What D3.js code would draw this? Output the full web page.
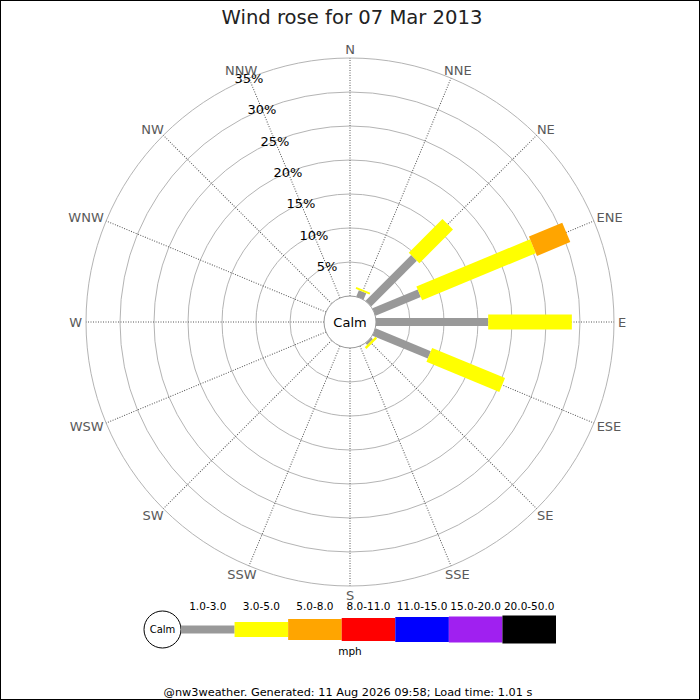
<!DOCTYPE html>
<html>
<head>
<meta charset="utf-8">
<style>
  body { margin: 0; background: #fff; }
  svg text { font-family: "DejaVu Sans", sans-serif; }
</style>
</head>
<body>
<svg id="chart" width="700" height="700"></svg>
<script src="https://d3js.org/d3.v7.min.js"></script>
<script>
// data
var directions = ["N", "NNE", "NE", "ENE", "E", "ESE", "SE", "SSE",
                  "S", "SSW", "SW", "WSW", "W", "WNW", "NW", "NNW"];
var ranges = ["1.0-3.0", "3.0-5.0", "5.0-8.0", "8.0-11.0", "11.0-15.0", "15.0-20.0", "20.0-50.0"];
var rangeColors = ["#999999", "#ffff00", "#ffa500", "#ff0000", "#0000ff", "#a020f0", "#000000"];
var pctTicks = [5, 10, 15, 20, 25, 30, 35];

// percent of time per direction, one array per speed range
var speed1 = [0, 1.0, 9.5, 7.2, 16.5, 8.8, 0.35, 0, 0, 0, 0, 0, 0, 0, 0, 0];
var speed2 = [0, 0.3, 7.0, 18.1, 12.3, 11.6, 0.35, 0, 0, 0, 0, 0, 0, 0, 0, 0];
var speed3 = [0, 0, 0, 5.3, 0, 0, 0, 0, 0, 0, 0, 0, 0, 0, 0, 0];
var speed4 = [0, 0, 0, 0, 0, 0, 0, 0, 0, 0, 0, 0, 0, 0, 0, 0];
var speed5 = [0, 0, 0, 0, 0, 0, 0, 0, 0, 0, 0, 0, 0, 0, 0, 0];
var speed6 = [0, 0, 0, 0, 0, 0, 0, 0, 0, 0, 0, 0, 0, 0, 0, 0];
var speed7 = [0, 0, 0, 0, 0, 0, 0, 0, 0, 0, 0, 0, 0, 0, 0, 0];
var series = [speed1, speed2, speed3, speed4, speed5, speed6, speed7];

var titleText = "Wind rose for 07 Mar 2013";
var footerText = "@nw3weather. Generated: 11 Aug 2026 09:58; Load time: 1.01 s";

// bar thickness for each range (rose and legend)
var barWidth = [8, 15, 21, 23, 25, 26, 28];

var svg = d3.select("#chart");
var cx = 350, cy = 322, calmR = 26;

var r = d3.scaleLinear().domain([0, 35]).range([calmR, 264]);
var ang = d3.scaleBand().domain(directions).range([0, 360]).align(0).paddingInner(0);
function deg(d) { return ang(d); }

// frame
svg.append("rect")
    .attr("x", 0.5).attr("y", 0.5).attr("width", 699).attr("height", 699)
    .attr("fill", "none").attr("stroke", "#000");

// title
svg.append("text")
    .attr("x", 352).attr("y", 24)
    .attr("text-anchor", "middle")
    .style("font-size", "19.6px")
    .attr("fill", "#222")
    .text(titleText);

var rose = svg.append("g").attr("transform", "translate(" + cx + "," + cy + ")");

// rings
rose.selectAll(".ring")
    .data(pctTicks)
    .enter().append("circle")
    .attr("class", "ring")
    .attr("r", function (d) { return r(d); })
    .attr("fill", "none")
    .attr("stroke", "#b4b4b4")
    .attr("stroke-width", 1);

// radial lines
rose.selectAll(".spoke")
    .data(directions)
    .enter().append("line")
    .attr("class", "spoke")
    .attr("x1", 0).attr("y1", -calmR)
    .attr("x2", 0).attr("y2", -r(35))
    .attr("transform", function (d) { return "rotate(" + deg(d) + ")"; })
    .attr("stroke", "#555")
    .attr("stroke-width", 1)
    .attr("stroke-dasharray", "1,1.5");

// stacked bars
var segs = [];
directions.forEach(function (dir, i) {
    var acc = 0;
    series.forEach(function (s, k) {
        if (s[i] > 0) {
            segs.push({ dir: dir, k: k, v0: acc, v1: acc + s[i] });
        }
        acc += s[i];
    });
});

rose.selectAll(".seg")
    .data(segs)
    .enter().append("rect")
    .attr("class", "seg")
    .attr("x", function (d) { return -barWidth[d.k] / 2; })
    .attr("width", function (d) { return barWidth[d.k]; })
    .attr("y", function (d) { return -r(d.v1); })
    .attr("height", function (d) { return r(d.v1) - r(d.v0); })
    .attr("transform", function (d) { return "rotate(" + deg(d.dir) + ")"; })
    .attr("fill", function (d) { return rangeColors[d.k]; });

// calm circle
rose.append("circle")
    .attr("r", calmR)
    .attr("fill", "#fff")
    .attr("stroke", "#999")
    .attr("stroke-width", 1);
rose.append("text")
    .attr("y", 5)
    .attr("text-anchor", "middle")
    .style("font-size", "13px")
    .text("Calm");

// percent labels along NNW
var nnw = deg("NNW") * Math.PI / 180;
rose.selectAll(".pct")
    .data(pctTicks)
    .enter().append("text")
    .attr("class", "pct")
    .attr("x", function (d) { return r(d) * Math.sin(nnw); })
    .attr("y", function (d) { return -r(d) * Math.cos(nnw) + 4.7; })
    .attr("text-anchor", "middle")
    .style("font-size", "13px")
    .attr("fill", "#000")
    .text(function (d) { return d + "%"; });

// direction labels
var labR = 268, capH = 9.5;
rose.selectAll(".dir")
    .data(directions)
    .enter().append("text")
    .attr("class", "dir")
    .style("font-size", "13px")
    .attr("fill", "#5a5a5a")
    .attr("text-anchor", "middle")
    .text(function (d) { return d; })
    .each(function (d) {
        var a = deg(d) * Math.PI / 180;
        var s = Math.sin(a), c = Math.cos(a);
        var w = this.getComputedTextLength();
        var px = labR * s, py = -labR * c;
        d3.select(this)
            .attr("x", px + w * s / 2)
            .attr("y", py - capH * c / 2 + capH / 2);
    });

// legend
var lx = d3.scaleBand().domain(ranges).range([181, 556]);
var ly = 629.5;
var legend = svg.append("g");

legend.append("circle")
    .attr("cx", 162.5).attr("cy", ly).attr("r", 18.5)
    .attr("fill", "#fff").attr("stroke", "#000");
legend.append("text")
    .attr("x", 162.5).attr("y", ly + 3.5)
    .attr("text-anchor", "middle")
    .style("font-size", "10px")
    .text("Calm");

legend.selectAll(".lseg")
    .data(ranges)
    .enter().append("rect")
    .attr("class", "lseg")
    .attr("x", function (d) { return lx(d); })
    .attr("width", lx.bandwidth())
    .attr("y", function (d, i) { return ly - barWidth[i] / 2; })
    .attr("height", function (d, i) { return barWidth[i]; })
    .attr("fill", function (d, i) { return rangeColors[i]; });

legend.selectAll(".llab")
    .data(ranges)
    .enter().append("text")
    .attr("class", "llab")
    .attr("x", function (d) { return lx(d) + lx.bandwidth() / 2; })
    .attr("y", 610)
    .attr("text-anchor", "middle")
    .style("font-size", "10.5px")
    .text(function (d) { return d; });

legend.append("text")
    .attr("x", 350).attr("y", 655)
    .attr("text-anchor", "middle")
    .style("font-size", "10.5px")
    .text("mph");

// footer
svg.append("text")
    .attr("x", 348).attr("y", 696)
    .attr("text-anchor", "middle")
    .style("font-size", "11.3px")
    .text(footerText);
</script>
</body>
</html>
